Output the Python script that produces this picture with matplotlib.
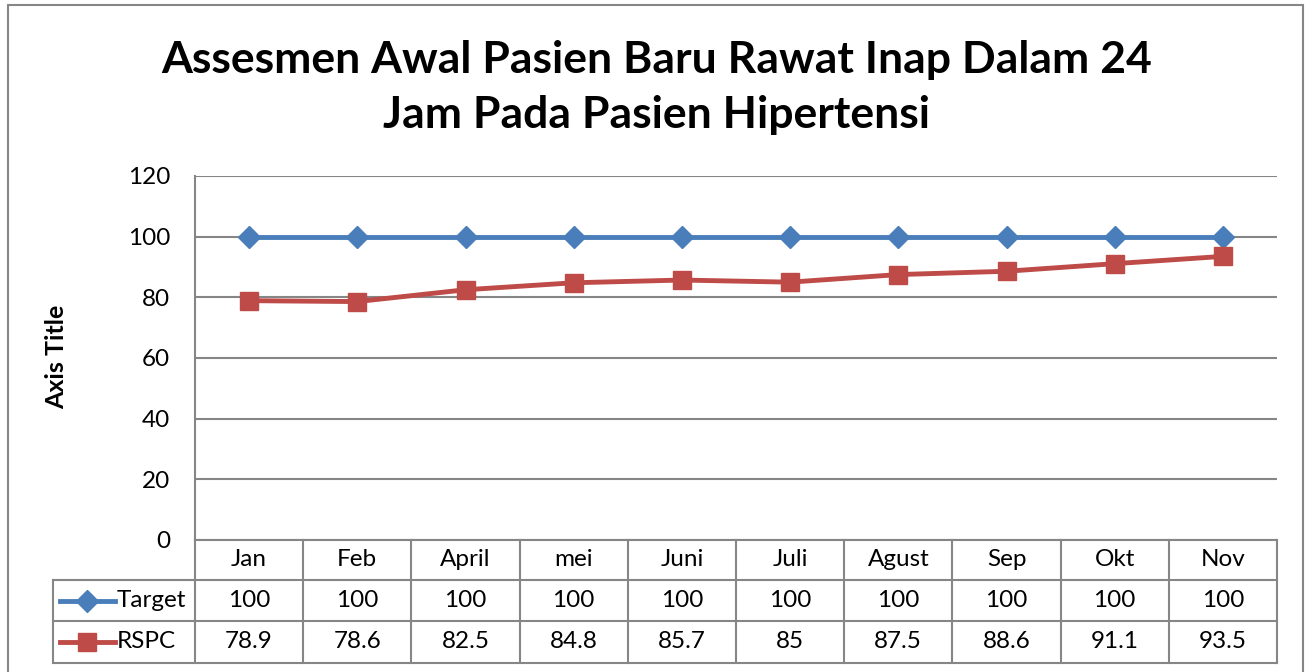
import matplotlib
matplotlib.use("Agg")
import matplotlib.pyplot as plt
from matplotlib.lines import Line2D
from matplotlib.patches import Rectangle

months = ["Jan", "Feb", "April", "mei", "Juni", "Juli", "Agust", "Sep", "Okt", "Nov"]
target = [100, 100, 100, 100, 100, 100, 100, 100, 100, 100]
rspc = [78.9, 78.6, 82.5, 84.8, 85.7, 85, 87.5, 88.6, 91.1, 93.5]
target_labels = ["100"] * 10
rspc_labels = ["78.9", "78.6", "82.5", "84.8", "85.7", "85", "87.5", "88.6", "91.1", "93.5"]
yticks = [0, 20, 40, 60, 80, 100, 120]

W, H = 1307, 672
FONT = "Lato"
BLUE = "#4A7EBB"
RED = "#BE4B48"
GRID = "#868686"
FS = 17.5

fig = plt.figure(figsize=(W / 100, H / 100), dpi=100)

# plot area in pixels
L, R, T, B = 195, 1277, 176, 540
ax = fig.add_axes([L / W, 1 - B / H, (R - L) / W, (B - T) / H])
x = list(range(len(months)))
ax.set_xlim(-0.5, len(months) - 0.5)
ax.set_ylim(0, 120)
ax.set_yticks(yticks)
ax.set_yticklabels([str(v) for v in yticks], fontsize=FS, family=FONT)
ax.tick_params(axis="y", length=0, pad=18)
ax.set_xticks([])
for s in ["top", "right", "bottom"]:
    ax.spines[s].set_visible(False)
ax.spines["left"].set_color(GRID)
ax.spines["left"].set_linewidth(1.5)
ax.grid(axis="y", color=GRID, linewidth=1.5)
ax.set_axisbelow(True)

ax.plot(x, target, color=BLUE, lw=3.5, marker="D", ms=11.5, mec=BLUE, mfc=BLUE, zorder=3)
ax.plot(x, rspc, color=RED, lw=3.5, marker="s", ms=13.5, mec=RED, mfc=RED, zorder=3)

ax.set_ylabel("Axis Title", fontsize=18, fontweight="bold", family=FONT)
ax.yaxis.set_label_coords((68 - L) / (R - L), (B - 357) / (B - T))

# data table
tr = ax.get_xaxis_transform()
def yf(py):
    return (B - py) / (B - T)
rows = [540, 580, 621, 663]
legL = 53
lkw = dict(color=GRID, lw=1.5, clip_on=False, zorder=1)
ax.add_line(Line2D([-0.5, 9.5], [yf(rows[0])] * 2, transform=tr, **lkw))
lx = -0.5 - (L - legL) / ((R - L) / 10)
for py in rows[1:]:
    ax.add_line(Line2D([lx, 9.5], [yf(py)] * 2, transform=tr, **lkw))
for i in range(11):
    ax.add_line(Line2D([i - 0.5] * 2, [yf(rows[0]), yf(rows[3])], transform=tr, **lkw))
ax.add_line(Line2D([lx] * 2, [yf(rows[1]), yf(rows[3])], transform=tr, **lkw))

tkw = dict(transform=tr, ha="center", va="center", fontsize=FS, family=FONT, clip_on=False)
for i, m in enumerate(months):
    ax.text(i, yf((rows[0] + rows[1]) / 2), m, **tkw)
    ax.text(i, yf((rows[1] + rows[2]) / 2), target_labels[i], **tkw)
    ax.text(i, yf((rows[2] + rows[3]) / 2), rspc_labels[i], **tkw)

unit = (R - L) / 10
def kx(px):
    return -0.5 + (px - L) / unit
for (row_mid, col, mk, ms, name) in [((rows[1] + rows[2]) / 2, BLUE, "D", 11.5, "Target"),
                                      ((rows[2] + rows[3]) / 2, RED, "s", 13.5, "RSPC")]:
    ax.add_line(Line2D([kx(60), kx(115)], [yf(row_mid)] * 2, transform=tr, color=col,
                       lw=3.5, clip_on=False))
    ax.add_line(Line2D([kx(87)], [yf(row_mid)], transform=tr, color=col, marker=mk, ms=ms,
                       clip_on=False))
    ax.text(kx(117), yf(row_mid), name, transform=tr, ha="left", va="center", fontsize=FS,
            family=FONT, clip_on=False)

# title
fig.text(657 / W, 1 - 60 / H, "Assesmen Awal Pasien Baru Rawat Inap Dalam 24",
         ha="center", va="center", fontsize=32, fontweight="bold", family=FONT)
fig.text(657 / W, 1 - 115 / H, "Jam Pada Pasien Hipertensi",
         ha="center", va="center", fontsize=32, fontweight="bold", family=FONT)

# chart border
fig.patches.append(Rectangle((8 / W, -0.05), (1303 - 8) / W, 1.05 - 5 / H,
                             transform=fig.transFigure, fill=False, ec=GRID, lw=1.5))

fig.savefig("out.png", dpi=100)
